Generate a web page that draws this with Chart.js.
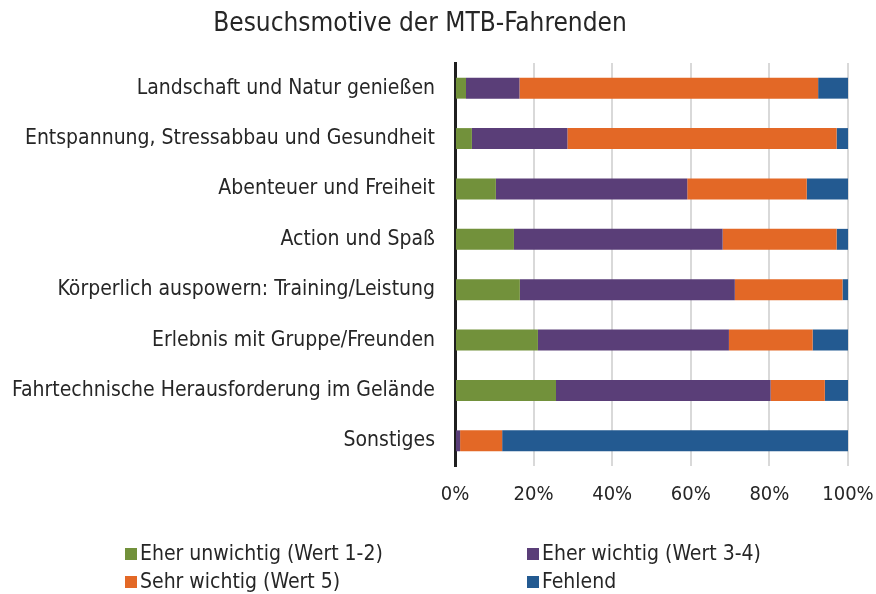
<!DOCTYPE html>
<html>
<head>
<meta charset="utf-8">
<script src="https://cdn.jsdelivr.net/npm/chart.js@4"></script>
<style>
  body { margin: 0; background: #fff; }
  #wrap { position: relative; width: 876px; height: 594px; }
  #title { position: absolute; left: 0; width: 840px; top: 6px; text-align: center;
    font-family: "DejaVu Sans Condensed", "DejaVu Sans", sans-serif; font-size: 26px; color: #262626; line-height: 32px; }
  #legend { position: absolute; left: 125px; top: 540px; width: 720px;
    font-family: "DejaVu Sans Condensed", "DejaVu Sans", sans-serif; font-size: 21px; color: #262626; }
  .item { position: absolute; white-space: nowrap; line-height: 26px; }
  .box { display: inline-block; width: 12px; height: 12px; margin-right: 3px; vertical-align: 0px; }
</style>
</head>
<body>
<div id="wrap">
  <canvas id="c" width="876" height="594"></canvas>
  <div id="title">Besuchsmotive der MTB-Fahrenden</div>
  <div id="legend"></div>
</div>
<script>
let categories = [
  'Landschaft und Natur genießen',
  'Entspannung, Stressabbau und Gesundheit',
  'Abenteuer und Freiheit',
  'Action und Spaß',
  'Körperlich auspowern: Training/Leistung',
  'Erlebnis mit Gruppe/Freunden',
  'Fahrtechnische Herausforderung im Gelände',
  'Sonstiges'
]
let seriesNames = ['Eher unwichtig (Wert 1-2)', 'Eher wichtig (Wert 3-4)', 'Sehr wichtig (Wert 5)', 'Fehlend']
let unwichtig = [2.8, 4.3, 10.4, 15.0, 16.5, 21.1, 25.7, 0]
let wichtig = [13.6, 24.3, 48.7, 53.1, 54.7, 48.6, 54.6, 1.3]
let sehrWichtig = [76.0, 68.5, 30.4, 29.0, 27.4, 21.3, 13.8, 10.7]
let fehlend = [7.6, 2.9, 10.5, 2.9, 1.4, 9.0, 5.9, 88.0]
let xTicks = [0, 20, 40, 60, 80, 100]

let colors = ['#72913b', '#5a3e78', '#e36826', '#235a91']
let values = [unwichtig, wichtig, sehrWichtig, fehlend]

let datasets = []
for (let i = 0; i < values.length; i++) {
  datasets.push({
    label: seriesNames[i],
    data: values[i],
    backgroundColor: colors[i],
    borderWidth: 0,
    barPercentage: 0.83,
    categoryPercentage: 0.5
  })
}

let fam = '"DejaVu Sans Condensed", "DejaVu Sans", sans-serif'

new Chart(document.getElementById('c'), {
  type: 'bar',
  data: { labels: categories, datasets: datasets },
  options: {
    indexAxis: 'y',
    responsive: false,
    animation: false,
    layout: { padding: { left: 8, top: 63, bottom: 70, right: 0 } },
    plugins: {
      legend: { display: false },
      tooltip: { enabled: false }
    },
    scales: {
      x: {
        stacked: true,
        min: 0,
        max: 100,
        afterBuildTicks: function(axis) {
          axis.ticks = xTicks.map(v => ({ value: v }))
        },
        afterFit: function(s) { s.paddingRight = 28 },
        ticks: {
          color: '#262626',
          font: { family: fam, size: 20 },
          padding: 17,
          callback: v => v + '%'
        },
        grid: { color: '#d9d9d9', lineWidth: 2, drawTicks: false },
        border: { display: false }
      },
      y: {
        stacked: true,
        afterFit: function(s) { s.width = 447 },
        ticks: { color: '#262626', font: { family: fam, size: 21 }, padding: 12 },
        grid: { display: false },
        border: { color: '#1f1f1f', width: 3 }
      }
    }
  }
})

let legend = document.getElementById('legend')
let pos = [[0, 0], [402, 0], [0, 28], [402, 28]]
for (let i = 0; i < seriesNames.length; i++) {
  let d = document.createElement('div')
  d.className = 'item'
  d.style.left = pos[i][0] + 'px'
  d.style.top = pos[i][1] + 'px'
  d.innerHTML = '<span class="box" style="background:' + colors[i] + '"></span>' + seriesNames[i]
  legend.append(d)
}
</script>
</body>
</html>
